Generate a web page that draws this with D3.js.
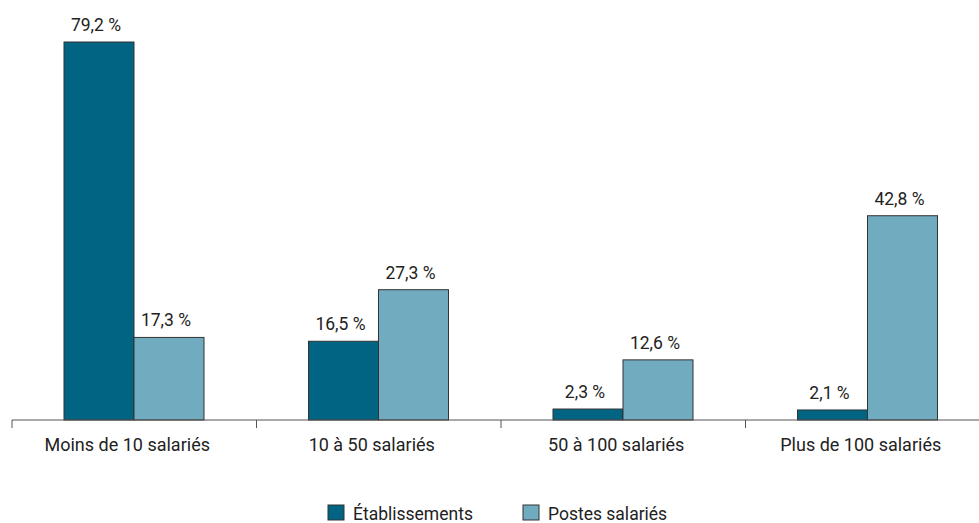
<!DOCTYPE html>
<html>
<head>
<meta charset="utf-8">
<script src="https://cdn.jsdelivr.net/npm/d3@7"></script>
<style>
  body { margin: 0; background: #fff; }
  text { font-family: Roboto, sans-serif; fill: #222; }
</style>
</head>
<body>
<div id="chart"></div>
<script>
/* categories and series */
var categories = ["Moins de 10 salariés", "10 à 50 salariés", "50 à 100 salariés", "Plus de 100 salariés"];
var series = ["Établissements", "Postes salariés"];
var etablissements = [79.2, 16.5, 2.3, 2.1];
var postes = [17.3, 27.3, 12.6, 42.8];
var colors = ["#006482", "#70abc0"];

var W = 979, H = 523;
var svg = d3.select("#chart").append("svg").attr("width", W).attr("height", H);

/* scales */
var x = d3.scaleBand().domain(categories).range([12, 990]);
var xs = d3.scaleBand().domain(series).range([52, 192]);
var y = d3.scaleLinear().domain([0, 79.2]).range([420, 42]);

var fmt = function (v) { return d3.format(".1f")(v).replace(".", ",") + " %"; };

var data = categories.map(function (c, i) {
  return { cat: c, vals: [
    { s: series[0], v: etablissements[i] },
    { s: series[1], v: postes[i] }
  ] };
});

var g = svg.selectAll("g.grp").data(data).enter().append("g")
  .attr("class", "grp")
  .attr("transform", function (d) { return "translate(" + x(d.cat) + ",0)"; });

g.selectAll("rect").data(function (d) { return d.vals; }).enter().append("rect")
  .attr("x", function (d) { return xs(d.s); })
  .attr("y", function (d) { return y(d.v); })
  .attr("width", xs.bandwidth())
  .attr("height", function (d) { return y(0) - y(d.v); })
  .attr("fill", function (d, i) { return colors[i]; })
  .attr("stroke", "#333")
  .attr("stroke-width", 1);

g.selectAll("text.lab").data(function (d) { return d.vals; }).enter().append("text")
  .attr("class", "lab")
  .attr("x", function (d) { return xs(d.s) + xs.bandwidth() / 2 - 3; })
  .attr("y", function (d) { return y(d.v) - 11; })
  .attr("text-anchor", "middle")
  .style("font-size", "17.5px")
  .text(function (d) { return fmt(d.v); });

/* x axis */
var axis = svg.append("g").attr("transform", "translate(0," + y(0) + ")");
axis.append("line").attr("x1", 12).attr("x2", W).attr("stroke", "#555");
axis.selectAll("line.tick").data(categories).enter().append("line")
  .attr("class", "tick")
  .attr("x1", function (d) { return x(d); }).attr("x2", function (d) { return x(d); })
  .attr("y1", 0).attr("y2", 8).attr("stroke", "#555");
axis.selectAll("text").data(categories).enter().append("text")
  .attr("x", function (d) { return x(d) + x.bandwidth() / 2 - 7; })
  .attr("y", 31)
  .attr("text-anchor", "middle")
  .style("font-size", "18px")
  .text(function (d) { return d; });

/* legend */
var legX = [328, 523];
var leg = svg.selectAll("g.leg").data(series).enter().append("g")
  .attr("class", "leg")
  .attr("transform", function (d, i) { return "translate(" + legX[i] + ",505)"; });
leg.append("rect").attr("width", 16).attr("height", 15)
  .attr("fill", function (d, i) { return colors[i]; })
  .attr("stroke", "#333");
leg.append("text").attr("x", 25).attr("y", 15).style("font-size", "17.5px")
  .text(function (d) { return d; });
</script>
</body>
</html>
